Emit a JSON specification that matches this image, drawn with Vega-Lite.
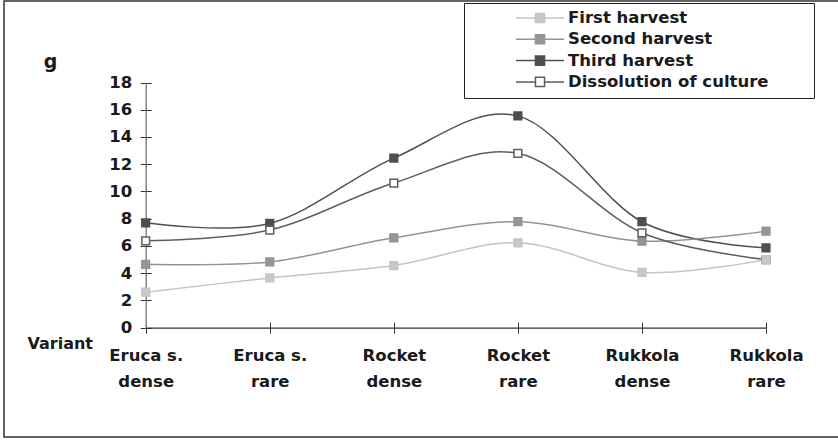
{
  "$schema": "https://vega.github.io/schema/vega-lite/v6.json",
  "width": 836,
  "height": 436,
  "autosize": "none",
  "padding": {"left": 4, "top": 1, "right": -2, "bottom": 3},
  "background": "white",
  "config": {
    "view": {"stroke": "#333333", "strokeWidth": 1.5},
    "font": "DejaVu Sans"
  },
  "data": {
    "values": [
      {"variant": "Eruca s. dense", "series": "Third harvest", "value": 7.7},
      {"variant": "Eruca s. rare", "series": "Third harvest", "value": 7.66},
      {"variant": "Rocket dense", "series": "Third harvest", "value": 12.45},
      {"variant": "Rocket rare", "series": "Third harvest", "value": 15.55},
      {"variant": "Rukkola dense", "series": "Third harvest", "value": 7.78},
      {"variant": "Rukkola rare", "series": "Third harvest", "value": 5.86},
      {"variant": "Eruca s. dense", "series": "Second harvest", "value": 4.65},
      {"variant": "Eruca s. rare", "series": "Second harvest", "value": 4.83},
      {"variant": "Rocket dense", "series": "Second harvest", "value": 6.6},
      {"variant": "Rocket rare", "series": "Second harvest", "value": 7.78},
      {"variant": "Rukkola dense", "series": "Second harvest", "value": 6.35},
      {"variant": "Rukkola rare", "series": "Second harvest", "value": 7.09},
      {"variant": "Eruca s. dense", "series": "Dissolution of culture", "value": 6.38},
      {"variant": "Eruca s. rare", "series": "Dissolution of culture", "value": 7.17},
      {"variant": "Rocket dense", "series": "Dissolution of culture", "value": 10.62},
      {"variant": "Rocket rare", "series": "Dissolution of culture", "value": 12.8},
      {"variant": "Rukkola dense", "series": "Dissolution of culture", "value": 6.97},
      {"variant": "Rukkola rare", "series": "Dissolution of culture", "value": 5.0},
      {"variant": "Eruca s. dense", "series": "First harvest", "value": 2.61},
      {"variant": "Eruca s. rare", "series": "First harvest", "value": 3.65},
      {"variant": "Rocket dense", "series": "First harvest", "value": 4.56},
      {"variant": "Rocket rare", "series": "First harvest", "value": 6.23},
      {"variant": "Rukkola dense", "series": "First harvest", "value": 4.06},
      {"variant": "Rukkola rare", "series": "First harvest", "value": 5.0}
    ]
  },
  "layer": [
    {
      "mark": {"type": "line", "interpolate": "cardinal", "tension": 0, "strokeWidth": 1.5},
      "encoding": {
        "x": {
          "field": "variant", "type": "ordinal", "sort": null,
          "scale": {"type": "point", "range": [141.7, 762], "padding": 0},
          "axis": {
            "orient": "bottom", "offset": -109.3,
            "title": "Variant", "titleFont": "DejaVu Sans", "titleFontSize": 16, "titleFontWeight": "bold", "titleColor": "#1a1a1a",
            "titleX": 55.7, "titleY": 20.8, "titleAlign": "center", "titleBaseline": "alphabetic", "titleAngle": 0,
            "labelAngle": 0, "labelFont": "DejaVu Sans", "labelFontSize": 16.5, "labelFontWeight": "bold", "labelColor": "#1a1a1a",
            "labelBaseline": "top", "labelPadding": 14, "labelLineHeight": 26, "labelOverlap": false, "labelLimit": 300,
            "labelExpr": "[substring(datum.label, 0, lastindexof(datum.label, ' ')), substring(datum.label, lastindexof(datum.label, ' ') + 1)]",
            "domainColor": "#333333", "domainWidth": 1.2, "tickColor": "#333333", "tickSize": 5.5, "tickWidth": 1, "grid": false
          }
        },
        "y": {
          "field": "value", "type": "quantitative",
          "scale": {"domain": [0, 18], "range": [326.7, 81.5], "nice": false, "zero": true},
          "axis": {
            "orient": "left", "offset": -141.7,
            "values": [0, 2, 4, 6, 8, 10, 12, 14, 16, 18],
            "title": "g", "titleFont": "DejaVu Sans", "titleFontSize": 19, "titleFontWeight": "bold", "titleColor": "#1a1a1a",
            "titleAngle": 0, "titleX": -95.7, "titleY": 66.7, "titleAlign": "center", "titleBaseline": "alphabetic",
            "labelFont": "DejaVu Sans", "labelFontSize": 16.5, "labelFontWeight": "bold", "labelColor": "#1a1a1a",
            "labelPadding": 8.5, "labelOverlap": false,
            "domainColor": "#858585", "domainWidth": 1.5, "tickColor": "#333333", "tickSize": 5.5, "tickWidth": 1, "grid": false
          }
        },
        "color": {
          "field": "series", "type": "nominal",
          "scale": {
            "domain": ["First harvest", "Second harvest", "Third harvest", "Dissolution of culture"],
            "range": ["#c4c4c6", "#939396", "#4f4f51", "#5e5e5e"]
          },
          "legend": {
            "title": " ", "titleOrient": "right", "titlePadding": 38, "titleFontSize": 10,
            "orient": "none", "legendX": 460, "legendY": 2, "direction": "vertical",
            "strokeColor": "#222222", "fillColor": "white", "padding": 7,
            "symbolType": "M-1,0H-0.19M0.19,0H1M-0.19,-0.19H0.19V0.19H-0.19Z",
            "symbolSize": 2304, "symbolStrokeWidth": 1.5, "symbolOffset": 44,
            "labelOffset": 3, "clipHeight": 16, "rowPadding": 4.3,
            "labelFont": "DejaVu Sans", "labelFontSize": 16.5, "labelFontWeight": "bold", "labelColor": "#1a1a1a", "labelLimit": 400,
            "encode": {
              "symbols": {
                "update": {
                  "fill": {"signal": "datum.value === 'Dissolution of culture' ? '#ffffff' : scale('color', datum.value)"},
                  "stroke": {"signal": "scale('color', datum.value)"},
                  "opacity": {"value": 1}
                }
              }
            }
          }
        }
      }
    },
    {
      "mark": {"type": "point", "shape": "square", "filled": false, "size": 60, "strokeWidth": 1.5, "opacity": 1},
      "encoding": {
        "x": {
          "field": "variant", "type": "ordinal", "sort": null,
          "axis": {
            "orient": "bottom", "offset": -109.3, "labels": false, "domain": false, "title": null,
            "tickColor": "#333333", "tickSize": -5.5, "tickWidth": 1, "grid": false
          }
        },
        "y": {
          "field": "value", "type": "quantitative",
          "axis": {
            "orient": "left", "offset": -141.7, "labels": false, "domain": false, "title": null,
            "values": [0, 2, 4, 6, 8, 10, 12, 14, 16, 18],
            "tickColor": "#333333", "tickSize": -5.5, "tickWidth": 1, "grid": false
          }
        },
        "color": {"field": "series", "type": "nominal", "legend": null},
        "fill": {
          "field": "series", "type": "nominal", "legend": null,
          "scale": {
            "domain": ["First harvest", "Second harvest", "Third harvest", "Dissolution of culture"],
            "range": ["#c8c8ca", "#969699", "#4e4e50", "#ffffff"]
          }
        }
      }
    }
  ],
  "resolve": {"axis": {"x": "independent", "y": "independent"}}
}
